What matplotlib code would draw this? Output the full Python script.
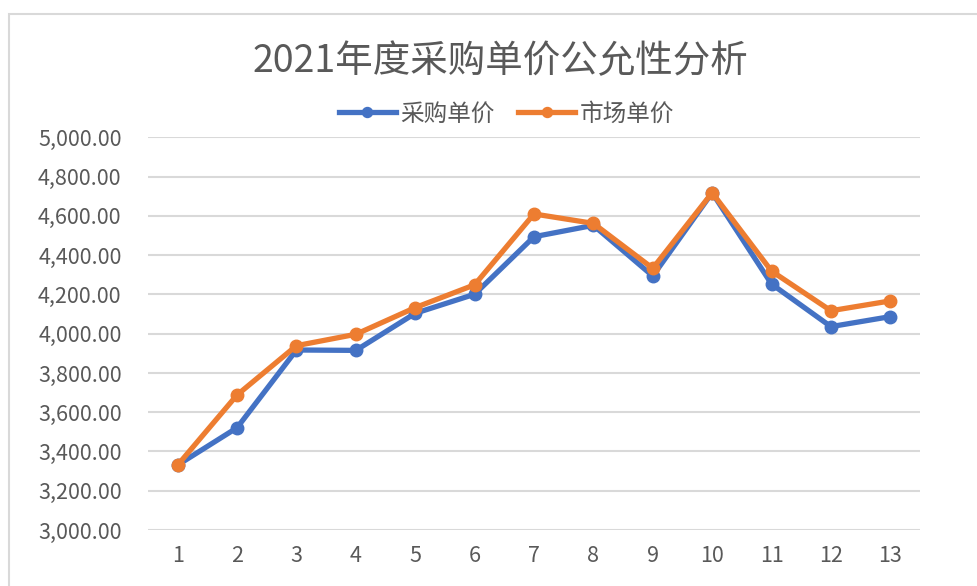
import matplotlib
matplotlib.use("Agg")
import matplotlib.pyplot as plt
from matplotlib.patches import Rectangle
from matplotlib.ticker import FuncFormatter

plt.rcParams["font.family"] = ["Noto Sans CJK SC", "DejaVu Sans"]

# data
months = [1, 2, 3, 4, 5, 6, 7, 8, 9, 10, 11, 12, 13]
purchase_price = [3331, 3521, 3917, 3915, 4104, 4201, 4494, 4552, 4294, 4718, 4253, 4036, 4087]
market_price = [3331, 3688, 3939, 3997, 4133, 4249, 4610, 4562, 4333, 4718, 4319, 4117, 4167]
series_names = ["采购单价", "市场单价"]
title = "2021年度采购单价公允性分析"
y_ticks = list(range(3000, 5001, 200))

BLUE = "#4472C4"
ORANGE = "#ED7D31"
GRID = "#d9d9d9"
TEXT = "#595959"

fig = plt.figure(figsize=(9.78, 5.86), dpi=100)
fig.patch.set_facecolor("white")

# chart-area border (top and left visible, rest cut off by the screenshot)
fig.patches.append(Rectangle((9 / 978, -0.05), 1.1, 1 - 14 / 586 + 0.05,
                             transform=fig.transFigure, fill=False,
                             edgecolor=GRID, linewidth=1.5))

ax = fig.add_axes([148 / 978, 56 / 586, 772 / 978, 392.6 / 586])
ax.plot(months, purchase_price, color=BLUE, linewidth=3.8, marker="o",
        markersize=9, label=series_names[0], zorder=3)
ax.plot(months, market_price, color=ORANGE, linewidth=3.8, marker="o",
        markersize=9, label=series_names[1], zorder=4)

ax.set_xlim(0.5, 13.5)
ax.set_ylim(3000, 5000)
ax.set_xticks(months)
ax.set_yticks(y_ticks)
ax.yaxis.set_major_formatter(FuncFormatter(lambda v, _: f"{v:,.2f}"))
ax.tick_params(axis="both", length=0, labelsize=15.5, labelcolor=TEXT)
ax.tick_params(axis="y", pad=19)
ax.tick_params(axis="x", pad=11)
ax.grid(axis="y", color=GRID, linewidth=1.5)
ax.set_axisbelow(True)
for spine in ax.spines.values():
    spine.set_visible(False)

fig.text(0.512, 1 - 62 / 586, title, ha="center", va="center",
         fontsize=27, color=TEXT)
fig.legend(loc="center", bbox_to_anchor=(0.518, 1 - 114 / 586), ncol=2,
           frameon=False, fontsize=17, handlelength=2.4, handletextpad=0.2,
           columnspacing=1.0, labelcolor=TEXT, markerscale=0.8)

fig.savefig("out.png", dpi=100, facecolor="white")
